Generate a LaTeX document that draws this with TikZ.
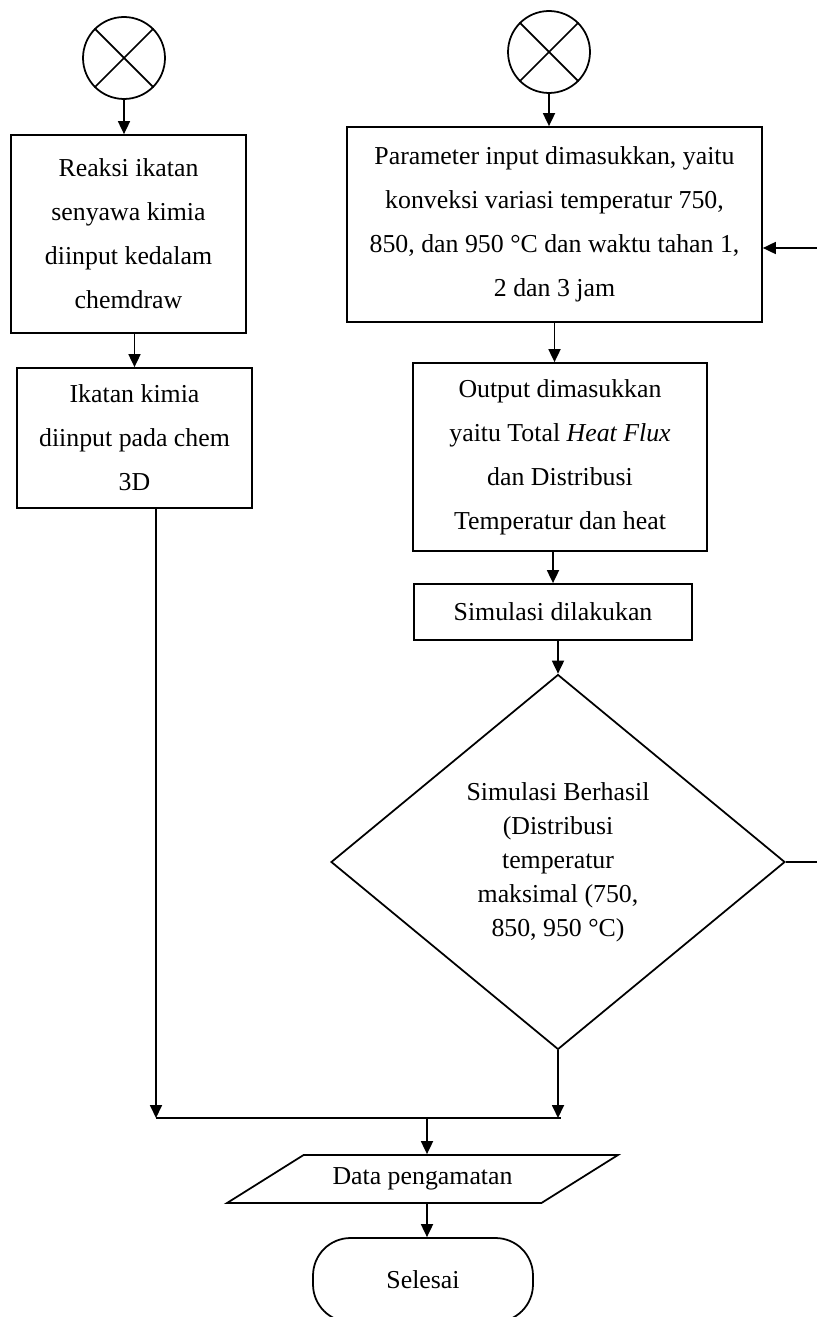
\documentclass[tikz,border=0pt]{standalone}
\usepackage{fontspec}
\setmainfont{Liberation Serif}
\usetikzlibrary{arrows.meta,shapes.geometric}

\begin{document}
\begin{tikzpicture}[x=0.02cm, y=-0.02cm, >={Triangle[length=2.6mm,width=2.4mm]},
  line width=1pt, font=\fontsize{14.7}{25}\selectfont,
  procbox/.style={draw, align=center, inner sep=0pt},
  offpage/.style={draw, circle, minimum size=1.64cm, inner sep=0pt}]
  \useasboundingbox (0,0) rectangle (817,1317);
  \clip (0,0) rectangle (817,1317);

  % left column
  \node[offpage] (conA) at (124,58) {};
  \draw (conA.north west) -- (conA.south east) (conA.north east) -- (conA.south west);
  \node[procbox, minimum width=4.7cm, minimum height=3.96cm] (reaksi) at (128.5,234)
    {Reaksi ikatan\\senyawa kimia\\diinput kedalam\\chemdraw};
  \node[procbox, minimum width=4.7cm, minimum height=2.8cm] (ikatan) at (134.5,438)
    {Ikatan kimia\\diinput pada chem\\3D};
  \draw[->] (conA.south) -- (conA.south |- reaksi.north);
  \draw[->] (ikatan.north |- reaksi.south) -- (ikatan.north);

  % right column
  \node[offpage] (conB) at (549,52) {};
  \draw (conB.north west) -- (conB.south east) (conB.north east) -- (conB.south west);
  \node[procbox, minimum width=8.3cm, minimum height=3.9cm] (param) at (554.5,224.5)
    {Parameter input dimasukkan, yaitu\\konveksi variasi temperatur 750,\\850, dan 950 °C dan waktu tahan 1,\\2 dan 3 jam};
  \node[procbox, minimum width=5.88cm, minimum height=3.76cm] (output) at (560,457)
    {Output dimasukkan\\yaitu Total \textit{Heat Flux}\\dan Distribusi\\Temperatur dan heat};
  \node[procbox, minimum width=5.56cm, minimum height=1.12cm] (simulasi) at (553,612)
    {Simulasi dilakukan};
  \node[draw, diamond, minimum width=9.08cm, minimum height=7.5cm, inner sep=0pt,
    align=center, font=\fontsize{14.7}{19.3}\selectfont] (berhasil) at (558,862)
    {Simulasi Berhasil\\(Distribusi\\temperatur\\maksimal (750,\\850, 950 °C)};
  \draw[->] (conB.south) -- (conB.south |- param.north);
  \draw[->] (param.south) -- (param.south |- output.north);
  \draw[->] (simulasi.north |- output.south) -- (simulasi.north);
  \draw[->] (berhasil.north |- simulasi.south) -- (berhasil.north);

  % loop back to the parameter box
  \coordinate (loopOut) at (817,857);
  \coordinate (loopIn) at (817,248);
  \draw (berhasil.east) -- (loopOut |- berhasil.east);
  \draw[->] (loopIn) -- (loopIn -| param.east);

  % merge and finish
  \coordinate (busL) at (156,1118);
  \coordinate (busR) at (561,1118);
  \coordinate (merge) at (427,1118);
  \draw[->] (busL |- ikatan.south) -- (busL);
  \draw[->] (berhasil.south) -- (berhasil.south |- busR);
  \draw (busL) -- (busR);
  \node[draw, trapezium, trapezium left angle=31.6, trapezium right angle=148.4,
    trapezium stretches body, minimum width=7.82cm, minimum height=0.96cm,
    inner xsep=0pt, inner ysep=7pt] (data) at (422.5,1179) {Data pengamatan};
  \node[draw, rounded corners=0.75cm, minimum width=4.4cm, minimum height=1.68cm]
    (selesai) at (423,1280) {Selesai};
  \draw[->] (merge) -- (merge |- data.north);
  \draw[->] (merge |- data.south) -- (merge |- selesai.north);
\end{tikzpicture}
\end{document}
